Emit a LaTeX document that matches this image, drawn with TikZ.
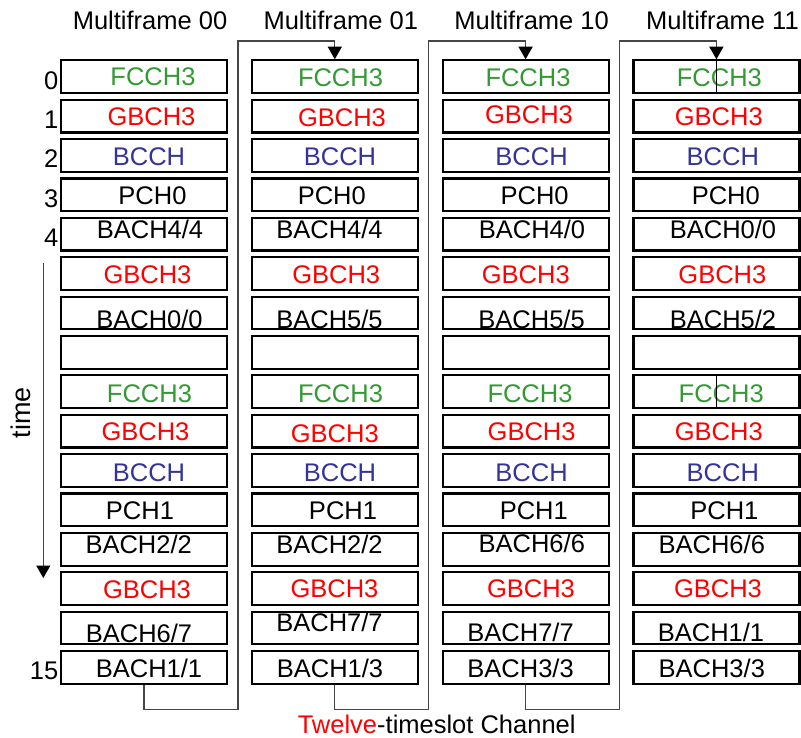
\documentclass[tikz,border=0pt]{standalone}
\usepackage{fontspec}
\setmainfont{Liberation Sans}
\usetikzlibrary{arrows.meta}
\definecolor{fcchgreen}{RGB}{51,153,51}
\definecolor{bcchblue}{RGB}{51,51,153}
\definecolor{linkgray}{RGB}{70,70,70}

\begin{document}
\begin{tikzpicture}[x=1pt, y=-1pt,
		slot/.style={draw, line width=2.2pt, minimum width=166pt, minimum height=32.7pt, inner sep=0pt},
		txt/.style={font=\fontsize{25.5}{30}\selectfont, inner sep=0pt, anchor=base},
		fcch/.style={txt, fcchgreen},
		gbch/.style={txt, red},
		bcch/.style={txt, bcchblue},
		blk/.style={txt, black},
		link/.style={linkgray, line width=1.3pt, -{Triangle[width=14pt,length=12.5pt,color=black]}}]
		\useasboundingbox (0,0) rectangle (801,738);
		% slots
		\foreach \j in {0,...,3} \foreach \i in {0,...,15}
			\node[slot] (b\j-\i) at (144+190.8*\j, 76.7+39.38*\i) {};
		\foreach \j/\m in {0/00, 1/01, 2/10, 3/11}
			\node[txt] (head\j) at (150+190.8*\j, 30) {Multiframe \m};
		% channel names, per multiframe
		\foreach \i/\lab/\s/\dx/\dy in {0/FCCH3/fcch/9/0, 1/GBCH3/gbch/7.5/0.5, 2/BCCH/bcch/5/0.5, 3/PCH0/blk/8.5/0,
				4/BACH4\slash 4/blk/6/-4.5, 5/GBCH3/gbch/3.5/1, 6/BACH0\slash 0/blk/5.5/6, 8/FCCH3/fcch/5.5/1.5,
				9/GBCH3/gbch/1.5/0, 10/BCCH/bcch/5/1.5, 11/PCH1/blk/-4/0, 12/BACH2\slash 2/blk/-5.3/-5,
				13/GBCH3/gbch/3/1, 14/BACH6\slash 7/blk/-5/5, 15/BACH1\slash 1/blk/5/1}
			\node[\s] (l0-\i) at ([shift={(\dx,9.2+\dy)}]b0-\i.center) {\lab};
		\foreach \i/\lab/\s/\dx/\dy in {0/FCCH3/fcch/5.7/1, 1/GBCH3/gbch/7.2/1, 2/BCCH/bcch/5.2/0.5, 3/PCH0/blk/-3/0,
				4/BACH4\slash 4/blk/-5.3/-4.5, 5/GBCH3/gbch/1.4/1, 6/BACH5\slash 5/blk/-5.3/6, 8/FCCH3/fcch/5.7/1.5,
				9/GBCH3/gbch/0/2, 10/BCCH/bcch/5.2/1.5, 11/PCH1/blk/8.2/0, 12/BACH2\slash 2/blk/-5.3/-5,
				13/GBCH3/gbch/-0.3/0, 14/BACH7\slash 7/blk/-5.3/-6, 15/BACH1\slash 3/blk/-4.8/1}
			\node[\s] (l1-\i) at ([shift={(\dx,9.2+\dy)}]b1-\i.center) {\lab};
		\foreach \i/\lab/\s/\dx/\dy in {0/FCCH3/fcch/2.4/1, 1/GBCH3/gbch/3.4/-1.5, 2/BCCH/bcch/6/0.5, 3/PCH0/blk/9/0,
				4/BACH4\slash 0/blk/6.4/-4.5, 5/GBCH3/gbch/0.2/0.5, 6/BACH5\slash 5/blk/6/6, 8/FCCH3/fcch/4.4/1.5,
				9/GBCH3/gbch/6/0.5, 10/BCCH/bcch/6/2, 11/PCH1/blk/8.2/0, 12/BACH6\slash 6/blk/6.2/-5.5,
				13/GBCH3/gbch/5.4/0, 14/BACH7\slash 7/blk/-5/4.5, 15/BACH3\slash 3/blk/-5/1}
			\node[\s] (l2-\i) at ([shift={(\dx,9.2+\dy)}]b2-\i.center) {\lab};
		\foreach \i/\lab/\s/\dx/\dy in {0/FCCH3/fcch/3/0.5, 1/GBCH3/gbch/2.4/0, 2/BCCH/bcch/6.4/0.5, 3/PCH0/blk/9.4/0,
				4/BACH0\slash 0/blk/6.6/-4.5, 5/GBCH3/gbch/6/0.5, 6/BACH5\slash 2/blk/6.6/6, 8/FCCH3/fcch/4.8/1.5,
				9/GBCH3/gbch/2.4/0, 10/BCCH/bcch/6.4/2, 11/PCH1/blk/8/0, 12/BACH6\slash 6/blk/-4.6/-5,
				13/GBCH3/gbch/1.6/0, 14/BACH1\slash 1/blk/-5.4/4.5, 15/BACH3\slash 3/blk/-4.6/1}
			\node[\s] (l3-\i) at ([shift={(\dx,9.2+\dy)}]b3-\i.center) {\lab};
		% slot numbers and time axis
		\foreach \i in {0,...,4}
			\node[txt, anchor=base east] (n\i) at ([shift={(-1.5,12.5)}]b0-\i.west) {\i};
		\node[txt, anchor=base east] (n15) at ([shift={(-1.5,12.5)}]b0-15.west) {15};
		\node[txt, anchor=center, rotate=90, font=\fontsize{27}{30}\selectfont] (timelab) at (21, 412.5) {time};
		\coordinate (tstart) at (43.3, 263);
		\coordinate (tend) at (43.3, 578);
		\draw[link] (tstart) -- (tend);
		% multiframe to multiframe
		\foreach \j/\k in {0/1, 1/2, 2/3} {
			\coordinate (low\j) at (238+190.8*\j, 709.3);
			\coordinate (high\j) at (238+190.8*\j, 41);
			\draw[link] (b\j-15.south) |- (low\j) -- (high\j) -| (b\k-0.north);
		}
		\draw[line width=1.3pt] (b3-0.north) -- (b3-0.south);
		\draw[line width=1.3pt] (b3-8.north) -- (b3-8.south);
		\node[txt] (caption) at (436.7, 733) {\textcolor{red}{Twelve}-timeslot Channel};
	\end{tikzpicture}
\end{document}
